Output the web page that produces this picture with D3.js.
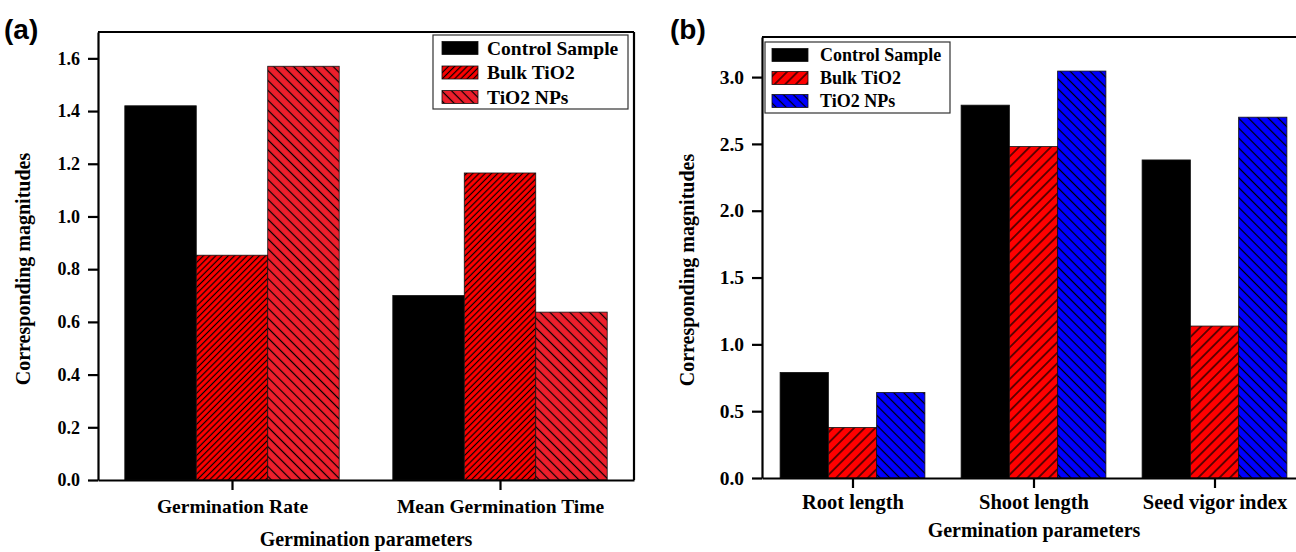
<!DOCTYPE html>
<html>
<head>
<meta charset="utf-8">
<script src="https://cdn.jsdelivr.net/npm/d3@7"></script>
<style>
  body { margin: 0; background: #ffffff; }
  svg text { font-family: "Liberation Serif", "Times New Roman", serif; font-weight: bold; fill: #000; }
</style>
</head>
<body>
<script>
// ---- data ----
var seriesNames = ["Control Sample", "Bulk TiO2", "TiO2 NPs"];

var categoriesA = ["Germination Rate", "Mean Germination Time"];
var controlA = [1.42, 0.70];
var bulkA = [0.853, 1.165];
var npsA = [1.57, 0.637];
var ticksA = [0, 0.2, 0.4, 0.6, 0.8, 1.0, 1.2, 1.4, 1.6];

var categoriesB = ["Root length", "Shoot length", "Seed vigor index"];
var controlB = [0.79, 2.79, 2.38];
var bulkB = [0.378, 2.48, 1.137];
var npsB = [0.64, 3.045, 2.70];
var ticksB = [0, 0.5, 1.0, 1.5, 2.0, 2.5, 3.0];

var yTitle = "Corresponding magnitudes";
var xTitle = "Germination parameters";

var width = 1296, height = 552;

var svg = d3.select("body").append("svg")
  .attr("width", width)
  .attr("height", height)

svg.append("rect").attr("width", width).attr("height", height).attr("fill", "#fff")

var defs = svg.append("defs")

function makeHatch(id, fill, size, angle) {
  var p = defs.append("pattern")
    .attr("id", id)
    .attr("patternUnits", "userSpaceOnUse")
    .attr("width", size)
    .attr("height", size)
    .attr("patternTransform", "rotate(" + angle + ")")
  p.append("rect").attr("width", size).attr("height", size).attr("fill", fill)
  p.append("line")
    .attr("x1", size / 2).attr("x2", size / 2)
    .attr("y1", 0).attr("y2", size)
    .attr("stroke", "#000")
    .attr("stroke-width", 1.2)
  return "url(#" + id + ")"
}

var fillsA = ["#000000", makeHatch("bulkA", "#ff0000", 4.4, 45), makeHatch("npsA", "#ee1f2c", 7, -45)]
var fillsB = ["#000000", makeHatch("bulkB", "#ff0000", 7.5, 45), makeHatch("npsB", "#0000ff", 7, -45)]

function drawPanel(o) {
  var g = svg.append("g")

  var x = d3.scalePoint().domain(o.categories).range([o.left, o.right]).padding(0.5)
  var step = x.step()
  var inner = d3.scaleBand().domain(seriesNames).range([-0.4 * step, 0.4 * step])
  var y = d3.scaleLinear().domain([0, o.yMax]).range([o.bottom, o.top])

  // frame lines (top, right)
  g.append("line")
    .attr("x1", o.left).attr("x2", o.right)
    .attr("y1", o.top).attr("y2", o.top)
    .attr("stroke", "#000").attr("stroke-width", 2.2)
  g.append("line")
    .attr("x1", o.right).attr("x2", o.right)
    .attr("y1", o.top).attr("y2", o.bottom)
    .attr("stroke", "#000").attr("stroke-width", 2.2)

  var rows = o.categories.map(function(c, i) {
    return seriesNames.map(function(s, j) {
      return { cat: c, series: s, value: o.values[j][i], fill: o.fills[j] }
    })
  })

  var groups = g.selectAll("g.grp")
    .data(rows)
    .enter().append("g")
    .attr("class", "grp")
    .attr("transform", function(d, i) { return "translate(" + x(o.categories[i]) + " 0)" })

  groups.selectAll("rect")
    .data(function(d) { return d })
    .enter().append("rect")
    .attr("x", function(d) { return inner(d.series) })
    .attr("width", inner.bandwidth())
    .attr("y", function(d) { return y(d.value) })
    .attr("height", function(d) { return y(0) - y(d.value) })
    .attr("fill", function(d) { return d.fill })
    .attr("stroke", "#111")
    .attr("stroke-width", 0.8)

  var yAxis = g.append("g")
    .attr("transform", "translate(" + o.left + " 0)")
    .call(d3.axisLeft(y).tickValues(o.ticks).tickFormat(d3.format(".1f")).tickSize(10).tickSizeOuter(0).tickPadding(8))
  yAxis.selectAll("text").style("font-size", o.tickFont + "px")

  var xAxis = g.append("g")
    .attr("transform", "translate(0 " + o.bottom + ")")
    .call(d3.axisBottom(x).tickSize(10).tickSizeOuter(0).tickPadding(o.catPad))
  xAxis.selectAll("text").style("font-size", o.catFont + "px")

  svg.selectAll(".domain, .tick line").attr("stroke", "#000").attr("stroke-width", 2.2)

  // axis titles
  g.append("text")
    .attr("transform", "translate(" + o.yTitleX + " " + o.yTitleY + ") rotate(-90)")
    .attr("text-anchor", "middle")
    .style("font-size", "20px")
    .text(yTitle)
  g.append("text")
    .attr("x", o.xTitleX)
    .attr("y", o.xTitleY)
    .attr("text-anchor", "middle")
    .style("font-size", "20px")
    .text(xTitle)

  // panel tag
  g.append("text")
    .attr("x", o.tagX)
    .attr("y", 39)
    .style("font-family", "'Liberation Sans', Arial, sans-serif")
    .style("font-size", "28px")
    .text(o.tag)

  // legend
  var lg = g.append("g").attr("transform", "translate(" + o.legX + " " + o.legY + ")")
  lg.append("rect")
    .attr("width", o.legW).attr("height", o.legH)
    .attr("fill", "#fff").attr("stroke", "#333").attr("stroke-width", 1.2)
  var items = lg.selectAll("g.item")
    .data(seriesNames)
    .enter().append("g")
    .attr("class", "item")
    .attr("transform", function(d, i) { return "translate(0 " + (o.legRow0 + i * o.legGap) + ")" })
  items.append("rect")
    .attr("x", o.swX).attr("y", -6.5)
    .attr("width", 36).attr("height", 13)
    .attr("fill", function(d, i) { return o.fills[i] })
    .attr("stroke", "#111").attr("stroke-width", 0.8)
  items.append("text")
    .attr("x", o.swX + o.txtGap)
    .attr("dy", "0.35em")
    .style("font-size", o.legFont + "px")
    .text(function(d) { return d })
}

drawPanel({
  tag: "(a)", tagX: 4,
  categories: categoriesA,
  values: [controlA, bulkA, npsA],
  fills: fillsA,
  ticks: ticksA,
  left: 98, right: 634, top: 32, bottom: 480, yMax: 1.7,
  tickFont: 18, catFont: 19.5, catPad: 9,
  yTitleX: 30, yTitleY: 269,
  xTitleX: 366, xTitleY: 546,
  legX: 433, legY: 35, legW: 195, legH: 74, legRow0: 13, legGap: 24.5, swX: 9, txtGap: 45, legFont: 19.5
})

drawPanel({
  tag: "(b)", tagX: 670,
  categories: categoriesB,
  values: [controlB, bulkB, npsB],
  fills: fillsB,
  ticks: ticksB,
  left: 762, right: 1305, top: 37, bottom: 478, yMax: 3.3,
  tickFont: 19.5, catFont: 20.5, catPad: 6,
  yTitleX: 694, yTitleY: 270,
  xTitleX: 1034, xTitleY: 537,
  legX: 765, legY: 42, legW: 185, legH: 71, legRow0: 13, legGap: 23, swX: 7, txtGap: 48, legFont: 18
})
</script>
</body>
</html>
